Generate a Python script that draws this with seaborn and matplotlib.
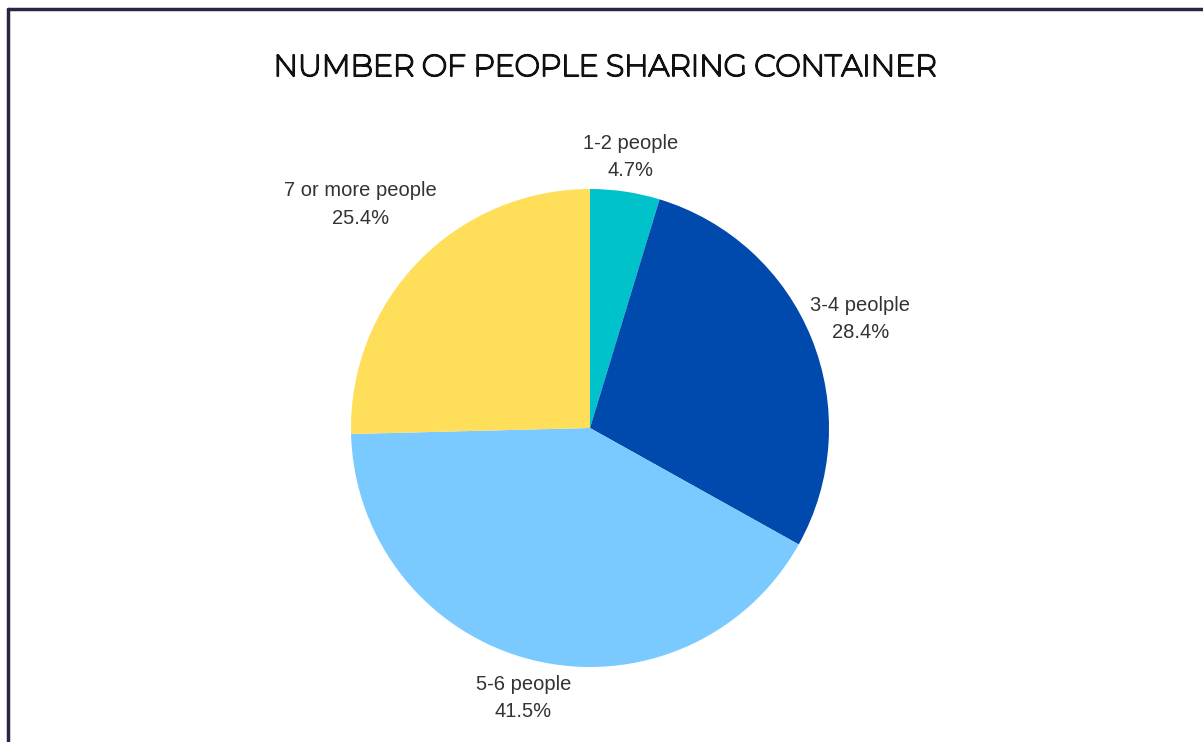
import numpy as np
import matplotlib
matplotlib.use("Agg")
import matplotlib.pyplot as plt
import matplotlib.patheffects as pe
import seaborn as sns

sns.set_theme(style="white")
plt.rcParams["font.family"] = ["Liberation Sans", "DejaVu Sans"]

# Share of containers by number of occupants
categories = ["1-2 people", "3-4 peolple", "5-6 people", "7 or more people"]
shares = [4.7, 28.4, 41.5, 25.4]
colors = ["#00C2CB", "#004AAD", "#7AC9FF", "#FFDE59"]

W, H = 1203, 742
fig = plt.figure(figsize=(W / 100, H / 100), dpi=100)
fig.patch.set_facecolor("white")

# Square axes centred on the pie, radius 1 -> 239 px
radius_px = 239
cx, cy = 590, 428
half = 300
ax = fig.add_axes([(cx - half) / W, (H - cy - half) / H, 2 * half / W, 2 * half / H])

wedges, _ = ax.pie(shares, colors=colors, startangle=90, counterclock=False,
                   radius=1.0, wedgeprops=dict(linewidth=0))

lim = half / radius_px
ax.set_xlim(-lim, lim)
ax.set_ylim(-lim, lim)
ax.set_aspect("equal")
ax.axis("off")

# Labels centred on each wedge's mid-angle, pushed out past the rim
label_dist = [1.145, 1.22, 1.165, 1.34]
for w, name, val, d in zip(wedges, categories, shares, label_dist):
    theta = np.deg2rad((w.theta1 + w.theta2) / 2)
    x, y = d * np.cos(theta), d * np.sin(theta)
    ax.text(x, y, f"{name}\n{val}%", ha="center", va="center", fontsize=14.5,
            color="#333333", multialignment="center", linespacing=1.55)

# Title: the geometric face is thin, so a matching stroke gives it body
fig.text(605 / W, 1 - 68 / H, "NUMBER OF PEOPLE SHARING CONTAINER",
         ha="center", va="center", fontsize=21.6, color="#111111",
         family=["Montserrat", "Noto Sans", "DejaVu Sans"], fontweight="normal",
         path_effects=[pe.withStroke(linewidth=1.5, foreground="#111111")])

# Frame lines along the top and left edges
fig.add_artist(plt.Line2D([7.5 / W, 7.5 / W], [0, 1 - 9 / H], transform=fig.transFigure,
                          color="#2E2340", linewidth=2.5))
fig.add_artist(plt.Line2D([7.5 / W, 1], [1 - 9 / H, 1 - 9 / H], transform=fig.transFigure,
                          color="#2E2340", linewidth=2.5))

fig.savefig("out.png", dpi=100, facecolor="white")
